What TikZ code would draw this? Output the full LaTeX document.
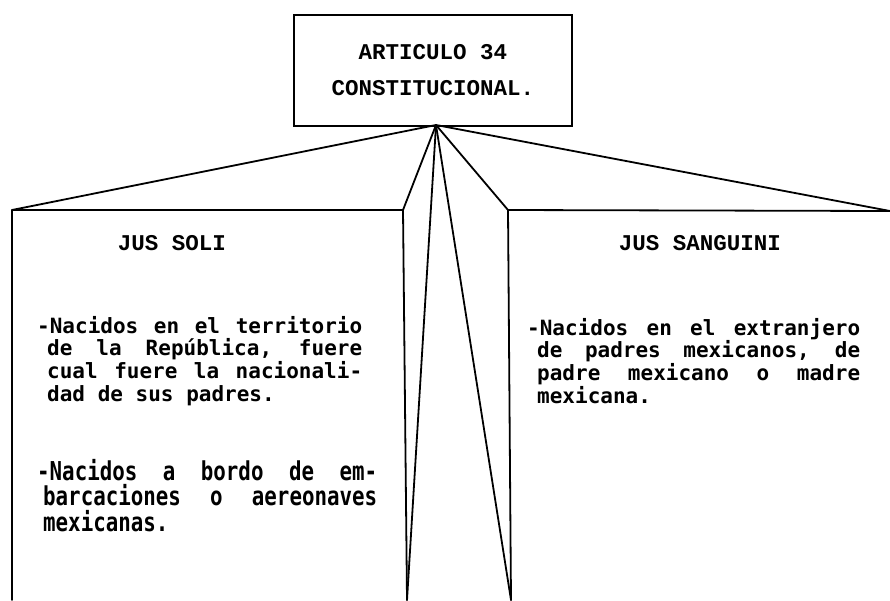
\documentclass[tikz,border=0pt]{standalone}
\usepackage{fontspec}
\newfontfamily\dotfont[WordSpace={1,2,0.5}]{DejaVu Sans Mono}
\newfontfamily\titlefont[WordSpace={1,2,0.5}]{Liberation Mono}
\newfontfamily\narrowfont[FakeStretch=0.8,WordSpace={1,2,0.5}]{DejaVu Sans Mono}
\begin{document}
\begin{tikzpicture}[x=1pt,y=-1pt,
  conn/.style={line width=1.8pt, line join=round, line cap=round},
  titlebox/.style={draw, line width=1.8pt, minimum width=278pt, minimum height=111pt, inner sep=0pt, align=center, font=\titlefont\bfseries\fontsize{22.5}{36}\selectfont},
  heading/.style={font=\titlefont\bfseries\fontsize{22.5}{25}\selectfont, inner sep=0pt},
  para/.style={anchor=north west, inner sep=0pt, align=justify, font=\dotfont\bfseries\fontsize{21}{22.7}\selectfont},
  narrowpara/.style={anchor=north west, inner sep=0pt, align=justify, font=\narrowfont\bfseries\fontsize{26}{25.5}\selectfont}
]
\useasboundingbox (0,0) rectangle (890,600);
\node[titlebox] (art) at (433,70.5) {ARTICULO 34\\CONSTITUCIONAL.};
\coordinate (apex) at (436,125);
\coordinate (ltl) at (12,210);
\coordinate (lbl) at (12,600);
\coordinate (ltr) at (403,210);
\coordinate (lbr) at (407,600);
\coordinate (rtl) at (508,210);
\coordinate (rbl) at (511,600);
\coordinate (rtr) at (890,211);
\draw[conn] (lbl) -- (ltl) -- (ltr) -- (lbr);
\draw[conn] (rbl) -- (rtl) -- (rtr);
\foreach \t in {ltl,ltr,lbr,rbl,rtl,rtr} \draw[conn] (apex) -- (\t);
\node[heading] (soli) at (172,243) {JUS SOLI};
\node[heading] (sang) at (700,243) {JUS SANGUINI};
\node[para, text width=315pt] (p1) at (47,316) {\hspace*{-10pt}-Nacidos en el territorio\linebreak de la República, fuere\linebreak cual fuere la nacionali-\linebreak dad de sus padres.};
\node[narrowpara, text width=334pt] (p2) at (43,459) {\hspace*{-6pt}-Nacidos a bordo de em-\linebreak barcaciones o aereonaves\linebreak mexicanas.};
\node[para, text width=323pt] (p3) at (537,318) {\hspace*{-10pt}-Nacidos en el extranjero\linebreak de padres mexicanos, de\linebreak padre mexicano o madre\linebreak mexicana.};
\end{tikzpicture}
\end{document}
